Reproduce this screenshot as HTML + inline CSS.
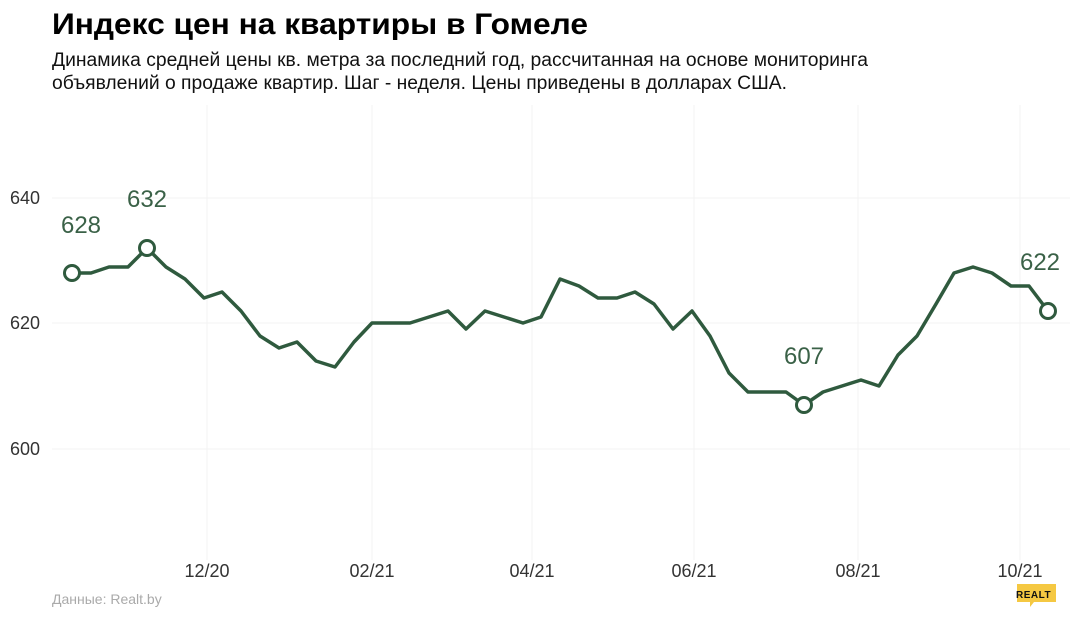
<!DOCTYPE html>
<html><head><meta charset="utf-8"><style>
body{margin:0;background:#fff;width:1080px;height:617px;overflow:hidden;font-family:"Liberation Sans",sans-serif}
</style></head><body>
<svg width="1080" height="617" xmlns="http://www.w3.org/2000/svg" font-family="Liberation Sans, sans-serif">
<text x="52" y="34" font-size="30" font-weight="bold" fill="#000" textLength="536" lengthAdjust="spacingAndGlyphs">Индекс цен на квартиры в Гомеле</text>
<text x="52" y="66" font-size="19" fill="#111" textLength="816" lengthAdjust="spacingAndGlyphs">Динамика средней цены кв. метра за последний год, рассчитанная на основе мониторинга</text>
<text x="52" y="89" font-size="19" fill="#111" textLength="735" lengthAdjust="spacingAndGlyphs">объявлений о продаже квартир. Шаг - неделя. Цены приведены в долларах США.</text>
<g stroke="#f3f3f3" stroke-width="1">
<line x1="52" x2="1070" y1="198" y2="198"/><line x1="52" x2="1070" y1="323" y2="323"/><line x1="52" x2="1070" y1="449" y2="449"/>
<line x1="207" x2="207" y1="105" y2="560"/><line x1="372" x2="372" y1="105" y2="560"/><line x1="532" x2="532" y1="105" y2="560"/><line x1="694" x2="694" y1="105" y2="560"/><line x1="858" x2="858" y1="105" y2="560"/><line x1="1020" x2="1020" y1="105" y2="560"/>
</g>
<g font-size="18" fill="#333">
<text x="10" y="204">640</text><text x="10" y="329">620</text><text x="10" y="455">600</text>
</g>
<g font-size="18" fill="#333" text-anchor="middle">
<text x="207" y="577">12/20</text><text x="372" y="577">02/21</text><text x="532" y="577">04/21</text><text x="694" y="577">06/21</text><text x="858" y="577">08/21</text><text x="1020" y="577">10/21</text>
</g>
<polyline fill="none" stroke="#2f5a3e" stroke-width="3.5" stroke-linejoin="round" points="72,273 91,273 109,267 128,267 147,248 166,267 185,279 204,298 222,292 241,311 260,336 279,348 297,342 316,361 335,367 354,342 372,323 391,323 410,323 429,317 448,311 466,329 485,311 504,317 523,323 541,317 560,279 579,286 598,298 617,298 635,292 654,304 673,329 692,311 710,336 729,373 748,392 767,392 786,392 804,405 823,392 842,386 861,380 879,386 898,355 917,336 936,304 954,273 973,267 992,273 1011,286 1029,286 1048,311"/>
<g fill="#fff" stroke="#2f5a3e" stroke-width="3">
<circle cx="72" cy="273" r="7.5"/><circle cx="147" cy="248" r="7.5"/><circle cx="804" cy="405" r="7.5"/><circle cx="1048" cy="311" r="7.5"/>
</g>
<g font-size="24" fill="#3a6147" text-anchor="middle">
<text x="81" y="233">628</text><text x="147" y="207">632</text><text x="804" y="364">607</text><text x="1040" y="270">622</text>
</g>
<text x="52" y="604" font-size="14" fill="#aaa">Данные: Realt.by</text>
<path d="M1017 584 h39 v18 h-22 l-4 5 v-5 h-13z" fill="#f5c842"/>
<text x="1016" y="598" font-size="10" font-weight="bold" fill="#111" letter-spacing="0.5">REALT</text>
</svg>
</body></html>
